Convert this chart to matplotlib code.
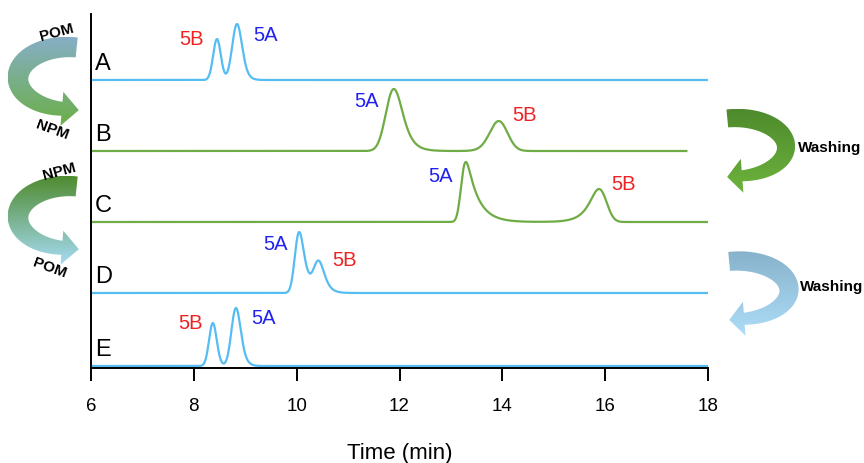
import matplotlib
matplotlib.use("Agg")
import matplotlib.pyplot as plt
import numpy as np
from matplotlib.path import Path
from matplotlib.patches import PathPatch
from matplotlib.colors import LinearSegmentedColormap

plt.rcParams["font.family"] = ["Liberation Sans", "DejaVu Sans"]

# stacked chromatograms, top to bottom
TRACES = ["A", "B", "C", "D", "E"]
OFFSETS = [288, 217, 146, 75, 2]
T_END = [18.0, 17.6, 18.0, 18.0, 18.0]
BLUE = "#56BDF3"
GREEN = "#6FAC45"
LINE_COLORS = [BLUE, GREEN, GREEN, BLUE, BLUE]

# peaks per trace: name, retention time (min), height, gaussian sigma, tail tau (<0 = fronting)
PEAK_NAMES = [["5B", "5A"], ["5A", "5B"], ["5A", "5B"], ["5A", "5B"], ["5B", "5A"]]
PEAK_RT = [[8.45, 8.84], [11.89, 13.93], [13.29, 15.88], [10.05, 10.43], [8.37, 8.82]]
PEAK_H = [[41, 56], [62, 30], [60, 33], [61, 30], [43, 58]]
PEAK_SIGMA = [[0.072, 0.085], [0.135, 0.16], [0.065, 0.12], [0.07, 0.085], [0.07, 0.08]]
PEAK_TAU = [[0.02, 0.06], [0.14, -0.08], [0.22, -0.18], [0.10, 0.09], [0.03, 0.06]]

NAME_COLORS = {"5A": "#2222EE", "5B": "#EE2222"}
# label offsets from peak apex, pixels
LABEL_OFFSETS = [[(-25, 0), (28, -11)],
                 [(-27, -12), (26, 6)],
                 [(-25, -14), (25, 5)],
                 [(-24, -12), (26, 3)],
                 [(-22, 0), (28, -10)]]


def peak_shape(sigma, tau):
    """Gaussian convolved with an exponential tail, apex normalised to 1."""
    s = np.linspace(-3, 3, 6001)
    ds = s[1] - s[0]
    g = np.exp(-0.5 * (s / sigma) ** 2)
    k = np.exp(-np.arange(0, 8 * abs(tau), ds) / abs(tau))
    y = np.convolve(g, k)[:len(s)]
    if tau < 0:
        y = y[::-1]
    y = y / y.max()
    return s, y, s[np.argmax(y)]


def trace(t, rts, hs, sigmas, taus):
    y = np.zeros_like(t)
    for rt, h, sg, tau in zip(rts, hs, sigmas, taus):
        s, shape, apex = peak_shape(sg, tau)
        y += h * np.interp(t - rt + apex, s, shape, left=0, right=0)
    return y


def ribbon_arrow(ax, cx, cy, rx, ry, side, top_color, bottom_color,
                 w0=20, w1=14, hw=17, hl=17):
    """Curved ribbon arrow in pixel coords; side=-1 bulges left, +1 bulges right."""
    th = np.radians(np.linspace(80, 263, 150))
    x = cx + rx * np.cos(th) if side < 0 else cx - rx * np.cos(th)
    y = cy - ry * np.sin(th)
    tx, ty = np.gradient(x), np.gradient(y)
    norm = np.hypot(tx, ty)
    tx, ty = tx / norm, ty / norm
    nx, ny = -ty, tx
    # ribbon is widest where it turns
    w = (np.linspace(w0, w1, len(th)) + 4 * np.sin(np.linspace(0, np.pi, len(th)))) / 2
    outer = np.column_stack([x + nx * w, y + ny * w])
    inner = np.column_stack([x - nx * w, y - ny * w])
    ex, ey = x[-1], y[-1]
    head = np.array([[ex + nx[-1] * hw, ey + ny[-1] * hw],
                     [ex + tx[-1] * hl, ey + ty[-1] * hl],
                     [ex - nx[-1] * hw, ey - ny[-1] * hw]])
    verts = np.vstack([outer, head, inner[::-1], outer[:1]])
    codes = [Path.MOVETO] + [Path.LINETO] * (len(verts) - 2) + [Path.CLOSEPOLY]
    patch = PathPatch(Path(verts, codes), facecolor="none", edgecolor="none")
    ax.add_patch(patch)
    cmap = LinearSegmentedColormap.from_list("grad", [top_color, bottom_color])
    x0, x1 = verts[:, 0].min(), verts[:, 0].max()
    y0, y1 = verts[:, 1].min(), verts[:, 1].max()
    im = ax.imshow(np.linspace(0, 1, 256).reshape(-1, 1), cmap=cmap, origin="upper",
                   extent=(x0, x1, y1, y0), aspect="auto", interpolation="bilinear")
    im.set_clip_path(patch)


fig = plt.figure(figsize=(8.64, 4.64), dpi=100)
ax = fig.add_axes([91 / 864, 95 / 464, 617 / 864, 354 / 464])

for i, name in enumerate(TRACES):
    t = np.linspace(6, T_END[i], 4000)
    y = OFFSETS[i] + trace(t, PEAK_RT[i], PEAK_H[i], PEAK_SIGMA[i], PEAK_TAU[i])
    ax.plot(t, y, color=LINE_COLORS[i], lw=1.6, solid_capstyle="butt")
    ax.annotate(name, xy=(6, OFFSETS[i]), xytext=(4, 11), textcoords="offset pixels",
                ha="left", va="baseline", fontsize=17, color="black")
    for pk, rt, h, off in zip(PEAK_NAMES[i], PEAK_RT[i], PEAK_H[i], LABEL_OFFSETS[i]):
        ax.annotate(pk, xy=(rt, OFFSETS[i] + h), xytext=off, textcoords="offset pixels",
                    ha="center", va="center", fontsize=14.5, color=NAME_COLORS[pk])

ax.set_xlim(6, 18)
ax.set_ylim(0, 354)
ax.set_xticks(np.arange(6, 19, 2))
ax.set_yticks([])
for sp in ("top", "right"):
    ax.spines[sp].set_visible(False)
for sp in ("left", "bottom"):
    ax.spines[sp].set_linewidth(1.4)
ax.tick_params(axis="x", direction="out", length=9, width=1.4, pad=12, labelsize=13.5)
ax.set_xlabel("Time (min)", fontsize=16, labelpad=20)

# mobile phase switching arrows, drawn in figure pixel coordinates
ov = fig.add_axes([0, 0, 1, 1])
ov.set_xlim(0, 864)
ov.set_ylim(464, 0)
ov.axis("off")

ribbon_arrow(ov, 68, 79, 50, 31, -1, "#86AEC6", "#6BAF47")
ribbon_arrow(ov, 68, 218, 50, 31, -1, "#4F8B2F", "#A6DCF5")
ribbon_arrow(ov, 736, 148, 50, 29, 1, "#4E8A2D", "#6DB33C", w0=18, w1=11, hl=15)
ribbon_arrow(ov, 738, 291, 51, 29, 1, "#88B2CB", "#ADDDF8", w0=19, w1=12, hl=15)

lab = dict(fontsize=11, fontweight="bold", ha="center", va="center", color="black")
ov.text(57, 33, "POM", rotation=15, **lab)
ov.text(52, 130, "NPM", rotation=-20, **lab)
ov.text(59, 172, "NPM", rotation=15, **lab)
ov.text(50, 268, "POM", rotation=-20, **lab)
ov.text(830, 148, "Washing", **lab)
ov.text(832, 287, "Washing", **lab)
ov.set_xlim(0, 864)
ov.set_ylim(464, 0)

fig.savefig("out.png", dpi=100)
